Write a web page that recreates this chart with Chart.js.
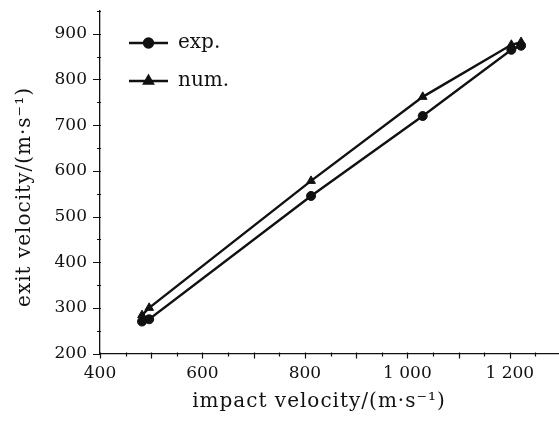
<!DOCTYPE html>
<html>
<head>
<meta charset="utf-8">
<title>exit velocity vs impact velocity</title>
<script src="https://cdn.jsdelivr.net/npm/chart.js@4.4.1/dist/chart.umd.min.js"></script>
<style>
    html, body { margin: 0; padding: 0; background: #fff; }
    #wrap { width: 559px; height: 421px; }
</style>
</head>
<body>
<div id="wrap"><canvas id="velocityChart" width="559" height="421"></canvas></div>
<script>
// measured and simulated velocities, m/s
const impactExp = [482, 496, 812, 1030, 1203, 1222];
const exitExp = [270, 275, 545, 720, 865, 874];
const impactNum = [482, 496, 812, 1030, 1203, 1222];
const exitNum = [284, 300, 578, 762, 876, 882];

const xTickValues = [400, 450, 500, 550, 600, 650, 700, 750, 800, 850, 900, 950, 1000, 1050, 1100, 1150, 1200, 1250];
const yTickValues = [200, 250, 300, 350, 400, 450, 500, 550, 600, 650, 700, 750, 800, 850, 900, 950];
const seriesNames = ['exp.', 'num.'];
const xTitle = 'impact velocity/(m·s⁻¹)';
const yTitle = 'exit velocity/(m·s⁻¹)';

const FONT = 'DejaVu Serif';
const INK = '#111';

function toPoints(xs, ys) {
    return xs.map((x, i) => ({ x: x, y: ys[i] }));
}

function fmtThousands(v) {
    return v >= 1000 ? String(v).replace(/(\d)(\d{3})$/, '$1 $2') : String(v);
}

// axis ticks (two lengths), axis titles and the inset legend
const axisDecor = {
    id: 'axisDecor',
    afterDraw(chart) {
        const ctx = chart.ctx;
        const xs = chart.scales.x;
        const ys = chart.scales.y;
        const area = chart.chartArea;
        ctx.save();
        ctx.strokeStyle = INK;
        ctx.lineWidth = 1.2;
        ctx.beginPath();
        xTickValues.forEach(v => {
            const px = Math.round(xs.getPixelForValue(v)) + 0.5;
            const len = v % 100 === 0 ? 5 : 3;
            ctx.moveTo(px, area.bottom - 1);
            ctx.lineTo(px, area.bottom + len);
        });
        yTickValues.forEach(v => {
            const py = Math.round(ys.getPixelForValue(v)) + 0.5;
            const len = v % 100 === 0 ? 7 : 3;
            ctx.moveTo(area.left - len, py);
            ctx.lineTo(area.left + 1, py);
        });
        ctx.stroke();

        // axis titles
        ctx.fillStyle = INK;
        ctx.font = '20px "' + FONT + '"';
        ctx.letterSpacing = '1px';
        ctx.textAlign = 'center';
        ctx.textBaseline = 'middle';
        ctx.fillText(xTitle, 319, 402);
        ctx.save();
        ctx.translate(25, 197);
        ctx.rotate(-Math.PI / 2);
        ctx.fillText(yTitle, 0, 0);
        ctx.restore();
        ctx.letterSpacing = '0px';

        // legend
        const rows = [43, 81];
        chart.data.datasets.forEach((ds, i) => {
            const y = rows[i];
            ctx.strokeStyle = INK;
            ctx.lineWidth = 2.4;
            ctx.beginPath();
            ctx.moveTo(129, y);
            ctx.lineTo(168, y);
            ctx.stroke();
            ctx.fillStyle = INK;
            Chart.helpers.drawPoint(ctx, {
                pointStyle: ds.pointStyle,
                radius: ds.pointRadius,
                borderWidth: 1
            }, 148.5, y);
            ctx.font = '20px "' + FONT + '"';
            ctx.textAlign = 'left';
            ctx.textBaseline = 'middle';
            ctx.fillText(seriesNames[i], 178, y);
        });
        ctx.restore();
    }
};

const ctx = document.getElementById('velocityChart').getContext('2d');

new Chart(ctx, {
    type: 'scatter',
    data: {
        datasets: [
            {
                label: seriesNames[0],
                data: toPoints(impactExp, exitExp),
                showLine: true,
                borderColor: INK,
                backgroundColor: INK,
                borderWidth: 2.4,
                pointStyle: 'circle',
                pointRadius: 4.5,
                pointBorderWidth: 1,
                tension: 0
            },
            {
                label: seriesNames[1],
                data: toPoints(impactNum, exitNum),
                showLine: true,
                borderColor: INK,
                backgroundColor: INK,
                borderWidth: 2.4,
                pointStyle: 'triangle',
                pointRadius: 5,
                pointBorderWidth: 1,
                tension: 0
            }
        ]
    },
    options: {
        responsive: false,
        animation: false,
        devicePixelRatio: 1,
        layout: {
            autoPadding: false,
            padding: { top: 11, right: 0, bottom: 0, left: 0 }
        },
        plugins: {
            legend: { display: false },
            tooltip: { enabled: false }
        },
        scales: {
            x: {
                type: 'linear',
                min: 400,
                max: 1296,
                afterBuildTicks: scale => {
                    scale.ticks = xTickValues.map(v => ({ value: v }));
                },
                afterFit: scale => {
                    scale.height = 67.5;
                    scale.paddingLeft = 0;
                    scale.paddingRight = 0;
                },
                grid: { display: false, drawTicks: false },
                border: { display: true, color: INK, width: 1.3 },
                ticks: {
                    autoSkip: false,
                    maxRotation: 0,
                    padding: 10,
                    color: INK,
                    font: { family: FONT, size: 17 },
                    callback: v => (v % 200 === 0 ? fmtThousands(v) : '')
                },
                title: { display: false }
            },
            y: {
                type: 'linear',
                min: 200,
                max: 950,
                afterBuildTicks: scale => {
                    scale.ticks = yTickValues.map(v => ({ value: v }));
                },
                afterFit: scale => {
                    scale.width = 100;
                    scale.paddingTop = 0;
                    scale.paddingBottom = 0;
                },
                grid: { display: false, drawTicks: false },
                border: { display: true, color: INK, width: 1.3 },
                ticks: {
                    autoSkip: false,
                    padding: 13,
                    color: INK,
                    font: { family: FONT, size: 17 },
                    callback: v => (v % 100 === 0 ? String(v) : '')
                },
                title: { display: false }
            }
        }
    },
    plugins: [axisDecor]
});
</script>
</body>
</html>
